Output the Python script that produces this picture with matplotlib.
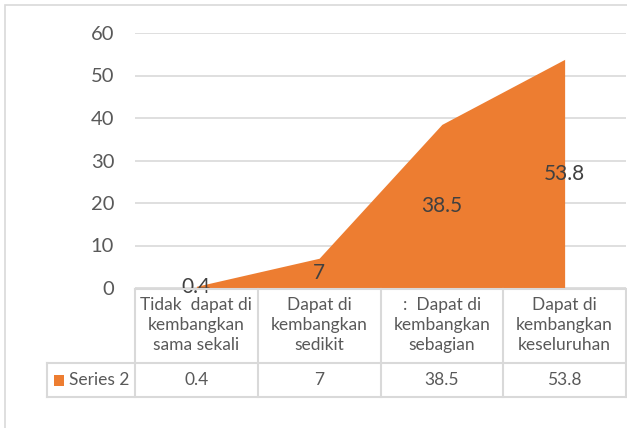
import matplotlib
matplotlib.use('Agg')
import matplotlib.pyplot as plt
import matplotlib.transforms as mtransforms
from matplotlib.patches import Rectangle
from matplotlib.lines import Line2D

categories = ['Tidak  dapat di\nkembangkan\nsama sekali',
              'Dapat di\nkembangkan\nsedikit',
              ':  Dapat di\nkembangkan\nsebagian',
              'Dapat di\nkembangkan\nkeseluruhan']
values = [0.4, 7, 38.5, 53.8]
value_labels = ['0.4', '7', '38.5', '53.8']
series_name = 'Series 2'
yticks = [0, 10, 20, 30, 40, 50, 60]

W, H = 627, 428
ORANGE = '#ed7d31'
GRID = '#d9d9d9'
plt.rcParams['font.family'] = ['Lato', 'DejaVu Sans']

fig = plt.figure(figsize=(W / 100, H / 100), dpi=100)


def fx(px):
    return px / W


def fy(py):
    return 1 - py / H


# chart border (bottom edge falls outside the image)
fig.add_artist(Rectangle((fx(5), fy(460)), fx(640) - fx(5), fy(5) - fy(460),
                         transform=fig.transFigure, fill=False,
                         edgecolor=GRID, lw=1.2))

ax = fig.add_axes([fx(135), fy(288), fx(626) - fx(135), fy(33) - fy(288)])
x = list(range(len(values)))
ax.fill_between(x, values, 0, color=ORANGE, lw=0)
ax.set_xlim(-0.5, len(values) - 0.5)
ax.set_ylim(0, 60)
ax.set_yticks(yticks)
ax.set_xticks([])
ax.grid(axis='y', color=GRID, lw=1.2)
ax.set_axisbelow(True)
for s in ax.spines.values():
    s.set_visible(False)
ax.tick_params(axis='y', length=0, pad=15, labelsize=14.5, labelcolor='#595959')

for xi, v, lab in zip(x, values, value_labels):
    ax.text(xi, v / 2, lab, ha='center', va='center', fontsize=15,
            color='#404040', clip_on=False)

# data table under the chart
tr = mtransforms.blended_transform_factory(ax.transData, fig.transFigure)
top, mid, bot = fy(289), fy(363), fy(397)
edges = [i - 0.5 for i in range(len(values) + 1)]
fig.add_artist(Line2D([edges[0], edges[-1]], [top, top], transform=tr, color=GRID, lw=1.5))
fig.add_artist(Line2D([fx(47), 1.0], [mid, mid], transform=fig.transFigure, color=GRID, lw=1.5))
fig.add_artist(Line2D([fx(47), 1.0], [bot, bot], transform=fig.transFigure, color=GRID, lw=1.5))
fig.add_artist(Line2D([fx(47), fx(47)], [mid, bot], transform=fig.transFigure, color=GRID, lw=1.5))
for e in edges:
    fig.add_artist(Line2D([e, e], [top, bot], transform=tr, color=GRID, lw=1.5))

for xi, cat, lab in zip(x, categories, value_labels):
    fig.text(xi, (top + mid) / 2 + 0.003, cat, transform=tr, ha='center', va='center',
             fontsize=12.5, color='#595959', linespacing=1.32)
    fig.text(xi, (mid + bot) / 2, lab, transform=tr, ha='center', va='center',
             fontsize=12.5, color='#595959')

fig.add_artist(Rectangle((fx(54), fy(386)), fx(10), fy(375) - fy(386),
                         transform=fig.transFigure, color=ORANGE, lw=0))
fig.text(fx(69), (mid + bot) / 2, series_name, ha='left', va='center',
         fontsize=12.5, color='#595959')

fig.savefig('out.png', dpi=100)
